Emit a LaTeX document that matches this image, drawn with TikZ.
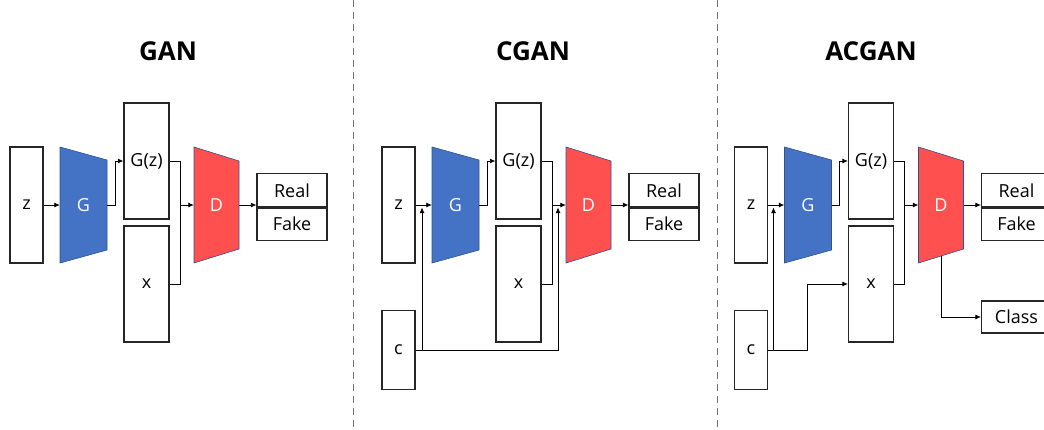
\documentclass[tikz,border=0pt]{standalone}
\usepackage{fontspec}
\setmainfont{Open Sans}
\usetikzlibrary{arrows.meta,backgrounds,calc}
\definecolor{gblue}{HTML}{4472C4}
\definecolor{dred}{HTML}{FF5050}
\definecolor{edgeblue}{HTML}{2F528F}
\tikzset{
  box/.style={draw=black!85, line width=1.2pt, fill=white, inner sep=0pt, font=\fontsize{18}{21}\selectfont},
  lbl/.style={inner sep=0pt, text=white, font=\fontsize{18}{21}\selectfont},
  conn/.style={line width=0.8pt, -{Latex[length=5.5pt,width=5pt]}},
  plain/.style={line width=0.8pt},
  titletext/.style={inner sep=0pt, font=\bfseries\fontsize{26}{30}\selectfont},
  divider/.style={draw=black!55, line width=1pt, dash pattern=on 7pt off 5pt},
  trapG/.style={fill=gblue, draw=edgeblue, line width=0.6pt},
  trapD/.style={fill=dred, draw=edgeblue, line width=0.6pt}
}
\newcommand{\ganpanelcore}[1]{%
  \node[box, minimum width=33pt, minimum height=116pt] (z#1) at (26.5,205) {z};
  \filldraw[trapG] (60,147) -- (107,160) -- (107,250) -- (60,263) -- cycle;
  \node[lbl, minimum width=47pt, minimum height=116pt] (G#1) at (83.5,205) {G};
  \node[box, minimum width=45pt, minimum height=116pt] (Gz#1) at (146.5,161) {G(z)};
  \node[box, minimum width=45pt, minimum height=116pt] (x#1) at (146.5,284) {x};
  \filldraw[trapD] (194,147) -- (239,161) -- (239,249) -- (194,263) -- cycle;
  \node[lbl, minimum width=45pt, minimum height=116pt] (D#1) at (216.5,205) {D};
  \node[box, minimum width=70pt, minimum height=33.5pt] (real#1) at (292,190.25) {Real};
  \node[box, minimum width=70pt, minimum height=33.5pt] (fake#1) at (292,223.75) {Fake};
  \draw[line width=2pt, black!85] (real#1.south west) -- (real#1.south east);
  \draw[conn] (z#1) -- (G#1);
  \coordinate (gb#1) at (115,205);
  \draw[conn] (G#1.east) -- (gb#1) |- (Gz#1.west);
  \coordinate (m#1) at (180,205);
  \draw[plain] (Gz#1.east) -| (m#1);
  \draw[plain] (x#1.east) -| (m#1);
  \draw[conn] (m#1) -- (D#1.west);
  \draw[conn] (D#1.east) -- (D#1.east -| real#1.west);
}
\begin{document}
\begin{tikzpicture}[x=1pt,y=-1pt]
  \useasboundingbox (0,0) rectangle (1044,429);
  \clip (0,0) rectangle (1044,429);

  % titles
  \node[titletext] (t1) at (168,51) {GAN};
  \node[titletext] (t2) at (533,51) {CGAN};
  \node[titletext] (t3) at (871,51) {ACGAN};

  % dividers
  \coordinate (d1a) at (353,0); \coordinate (d1b) at (353,429);
  \coordinate (d2a) at (717,0); \coordinate (d2b) at (717,429);
  \draw[divider] (d1a) -- (d1b);
  \draw[divider] (d2a) -- (d2b);

  % GAN
  \begin{scope}
    \ganpanelcore{1}
  \end{scope}

  % CGAN
  \begin{scope}[xshift=372pt]
    \ganpanelcore{2}
    \node[box, minimum width=33pt, minimum height=79pt] (c2) at (26.5,350) {c};
    \coordinate (cg2) at (50,207.5);
    \coordinate (cd2) at (186,207.5);
    \draw[conn] (c2.east) -| (cg2);
    \draw[conn] (c2.east) -| (cd2);
  \end{scope}

  % ACGAN
  \begin{scope}[xshift=724.5pt]
    \ganpanelcore{3}
    \node[box, minimum width=33pt, minimum height=79pt] (c3) at (26.5,350) {c};
    \node[box, minimum width=70pt, minimum height=32pt] (cls3) at (292,317) {Class};
    \coordinate (cg3) at (49,207.5);
    \coordinate (cx3) at (83,284);
    \draw[conn] (c3.east) -| (cg3);
    \draw[conn] (c3.east) -| (cx3) -- (x3.west);
    \begin{scope}[on background layer]
      \draw[conn] (D3.center) |- (cls3.west);
    \end{scope}
  \end{scope}
\end{tikzpicture}
\end{document}
